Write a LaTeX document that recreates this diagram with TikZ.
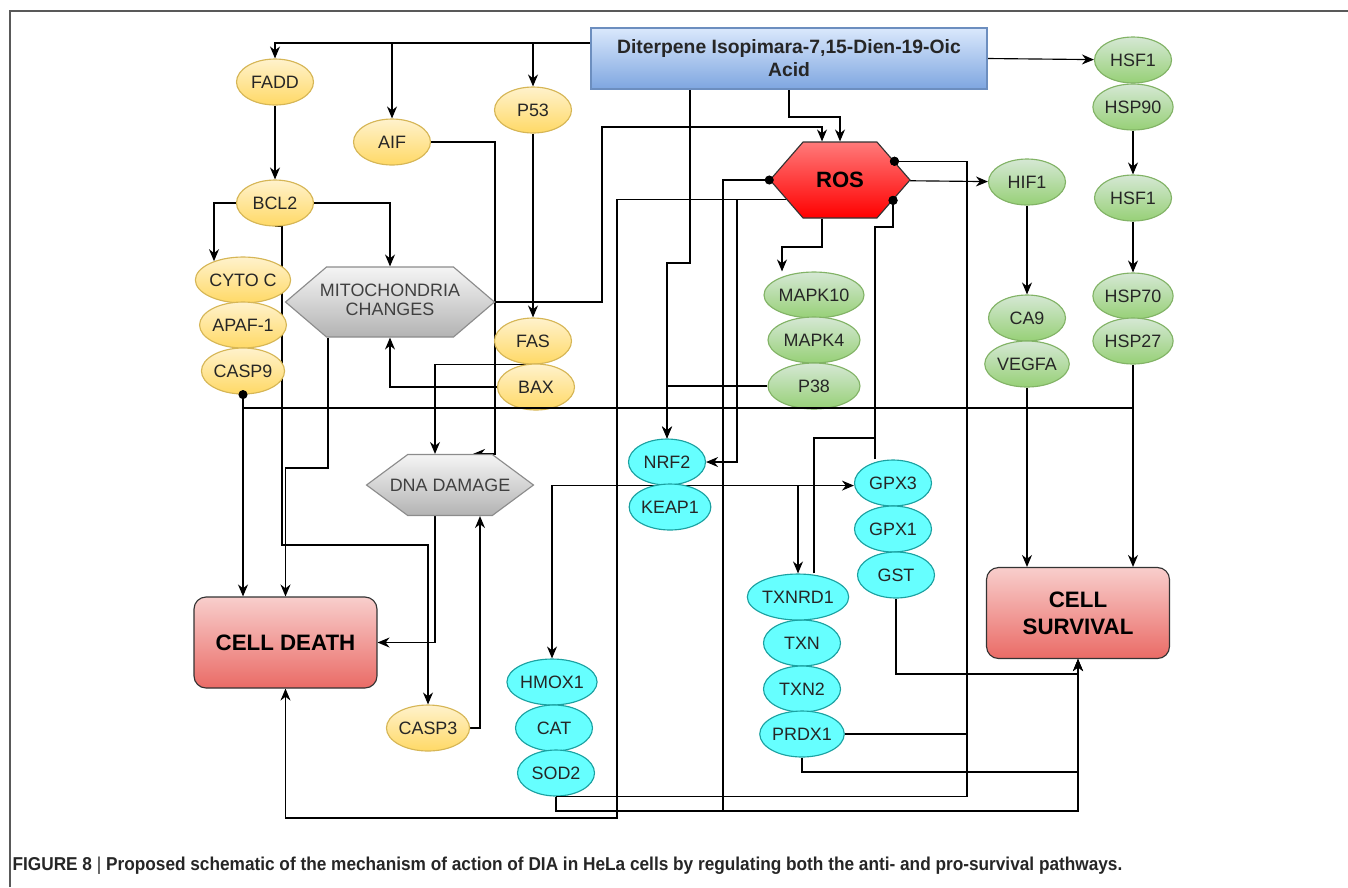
\documentclass[tikz,border=0pt]{standalone}
\usepackage{fontspec}
\usepackage{graphicx}
\setmainfont{Liberation Sans}
\usetikzlibrary{shapes.geometric,shapes.symbols,arrows.meta,backgrounds}
\definecolor{yelTop}{HTML}{FFF2CC}
\definecolor{yelBot}{HTML}{FFD966}
\definecolor{yelLine}{HTML}{D6B656}
\definecolor{grnTop}{HTML}{D5E8D4}
\definecolor{grnBot}{HTML}{97D077}
\definecolor{grnLine}{HTML}{82B366}
\definecolor{cynFill}{HTML}{66FFFF}
\definecolor{cynLine}{HTML}{1BA1A1}
\definecolor{hexTop}{HTML}{F5F5F5}
\definecolor{hexBot}{HTML}{B3B3B3}
\definecolor{hexLine}{HTML}{8C8C8C}
\definecolor{fateTop}{HTML}{F8CECC}
\definecolor{fateBot}{HTML}{EA6B66}
\definecolor{rosTop}{HTML}{FF7A7A}
\definecolor{rosBot}{HTML}{FF0000}
\definecolor{boxTop}{HTML}{DAE8FC}
\definecolor{boxBot}{HTML}{7EA6E0}
\definecolor{boxLine}{HTML}{6C8EBF}
\begin{document}
\begin{tikzpicture}[x=0.02cm,y=-0.02cm,line width=0.65pt,
  every node/.style={font=\fontsize{10.2}{11}\selectfont,text=black!85},
  gene/.style={ellipse,minimum width=1.54cm,minimum height=0.92cm,inner sep=0pt},
  yel/.style={gene,draw=yelLine,top color=yelTop,bottom color=yelBot},
  grn/.style={gene,draw=grnLine,top color=grnTop,bottom color=grnBot},
  cyn/.style={gene,draw=cynLine,fill=cynFill},
  hexa/.style={signal,signal to=east and west,draw=hexLine,top color=hexTop,bottom color=hexBot,
    inner sep=0pt,text=black!75},
  fate/.style={rectangle,rounded corners=0.24cm,draw=black!80,top color=fateTop,bottom color=fateBot,
    minimum width=3.66cm,minimum height=1.82cm,align=center,text=black,
    font=\bfseries\fontsize{12.7}{15.5}\selectfont},
  arr/.style={line width=0.65pt,-{Stealth[length=2.4mm,width=2mm]}},
  inh/.style={line width=0.65pt,-{Circle[length=1.8mm]},shorten >=-0.9mm}]
\useasboundingbox (0,0) rectangle (1348,887);
\draw[black!65,line width=1pt](10,887)--(10,11)--(1348,11);

\node[draw=boxLine,top color=boxTop,bottom color=boxBot,minimum width=7.92cm,minimum height=1.22cm,
  inner sep=0pt,align=center,font=\bfseries\fontsize{11}{13}\selectfont](dia)at(789,58.5)
  {Diterpene Isopimara-7,15-Dien-19-Oic\\Acid};

\foreach \n/\t/\x/\y in {fadd/FADD/275/82,aif/AIF/392/142,p53/P53/533/110,bcl2/BCL2/275/203,
  cyto/CYTO C/243/280,apaf/APAF-1/243/325,casp9/CASP9/243/371,fas/FAS/533/341,bax/BAX/536/387,
  casp3/CASP3/428/728}
  \node[yel](\n)at(\x,\y){\t};
\foreach \n/\t/\x/\y in {hsfa/HSF1/1133/60,hsp90/HSP90/1133/107,hsfb/HSF1/1133/198,
  hsp70/HSP70/1133/296,hsp27/HSP27/1133/341,hif1/HIF1/1027/182,ca9/CA9/1027/318,vegfa/VEGFA/1027/364}
  \node[grn](\n)at(\x,\y){\t};
\foreach \n/\t/\y in {mapk10/MAPK10/295,mapk4/MAPK4/340,p38/P38/386}
  \node[grn,minimum width=1.84cm](\n)at(814,\y){\t};
\foreach \n/\t/\x/\y in {nrf2/NRF2/667/462,keap1/KEAP1/670/507,gpx3/GPX3/893/483,gpx1/GPX1/893/529,
  gst/GST/896/575,txn/TXN/802/643,txn2/TXN2/802/689,prdx1/PRDX1/802/734,
  hmox1/HMOX1/552/682,cat/CAT/554/728,sod2/SOD2/556/773}
  \node[cyn](\n)at(\x,\y){\t};
\node[cyn,minimum width=1.7cm](txnrd1)at(798,597){TXNRD1};

\node[hexa,minimum width=4.18cm,minimum height=1.4cm,signal pointer angle=81](mito)at(390,302)
  {\makebox[0pt]{\begin{tabular}{@{}c@{}}MITOCHONDRIA\\CHANGES\end{tabular}}};
\node[hexa,minimum width=3.34cm,minimum height=1.22cm,signal pointer angle=73](dna)at(450,485)
  {\makebox[0pt]{DNA DAMAGE}};
\node[hexa,minimum width=2.8cm,minimum height=1.52cm,signal pointer angle=98,draw=black!80,
  top color=rosTop,bottom color=rosBot,text=black,font=\bfseries\fontsize{12.6}{14}\selectfont](ros)
  at(840,180){\makebox[0pt]{ROS}};
\node[fate](death)at(285.5,642.5){CELL DEATH};
\node[fate](surv)at(1078,613){CELL\\SURVIVAL};

\begin{scope}[on background layer]
\draw[arr](dia.west |- 0,43)-|(fadd);
\draw[arr](dia.west |- 0,43)-|(aif);
\draw[arr](dia.west |- 0,43)-|(p53);
\draw[arr](dia.east)--(hsfa);
\draw[arr](dia.south)|-(ros.north |- 0,117)--(ros.north);
\draw[arr](dia.south -| 690,0)|-(nrf2 |- 0,263)--(nrf2);
\draw[arr](fadd)--(bcl2);
\draw[arr](bcl2.west)-|(cyto.147);
\draw[arr](bcl2.east)-|(mito.north);
\draw[arr](bcl2.south)-|(282,545)-|(casp3.north);
\draw[arr](mito.south -| 328,0)|-(death.north |- 0,468)--(death.north);
\draw[arr](mito.east)-|(602,127)-|(ros.north -| 822,0);
\draw[arr](casp9.south)--(casp9.south |- death.north);
\draw[arr](p53)--(fas);
\draw[arr](fas.south)-|(dna.north -| 435,0);
\draw[arr](bax)-|(mito.south);
\draw[arr](aif)-|(dna.north -| 495,0)--(dna.north -| 473,0);
\draw[arr](dna.south -| 435,0)|-(death.east);
\draw[arr](casp3)-|(dna.south -| 480,0);
\draw[arr](p38)-|(nrf2);
\draw[arr](ros.200)-|(nrf2.east -| 737,0)--(nrf2.east);
\draw[arr](ros.200)-|(617,818)-|(death.south);
\draw[arr](ros.south -| 822,0)--(822,247)-|(mapk10.north -| 782,0);
\draw[arr](ros)--(hif1);
\draw[arr](hif1)--(ca9);
\draw[arr](vegfa)--(vegfa |- surv.north);
\draw[arr](hsp90)--(hsfb);
\draw[arr](hsfb)--(hsp70);
\draw[arr](hsp27)--(hsp27 |- surv.north);
\draw[arr](nrf2.south)-|(hmox1);
\draw[arr](nrf2.south)--(nrf2.south -| gpx3.west);
\draw[arr](nrf2.south)-|(txnrd1);
\draw[arr](sod2.south)|-(surv.south |- 0,811)--(surv.south);
\draw[arr](prdx1.south)|-(surv.south |- 0,772)--(surv.south);
\draw[arr](gst.south)|-(surv.south |- 0,674)--(surv.south);
\end{scope}
\draw[inh](hsp27.south |- 0,408)-|(casp9.south);
\draw[inh](sod2.south)|-(723,811)|-(ros.west);
\draw[inh](sod2.south)-|(ros.19 -| 967,0)--(ros.19);
\draw[inh](prdx1)-|(ros.19 -| 967,0)--(ros.19);
\draw[inh](gpx3.north -| 875,0)|-(ros.339 |- 0,227)--(ros.339);
\draw[inh](txnrd1.north -| 814,0)|-(875,438)|-(ros.339 |- 0,227)--(ros.339);

\node[anchor=west,inner sep=0pt,text=black!85](cap)at(12,866){\resizebox{22.2cm}{0.27cm}{\bfseries
  FIGURE 8 {\mdseries|} Proposed schematic of the mechanism of action of DIA in HeLa cells by regulating
  both the anti- and pro-survival pathways.}};
\end{tikzpicture}
\end{document}
